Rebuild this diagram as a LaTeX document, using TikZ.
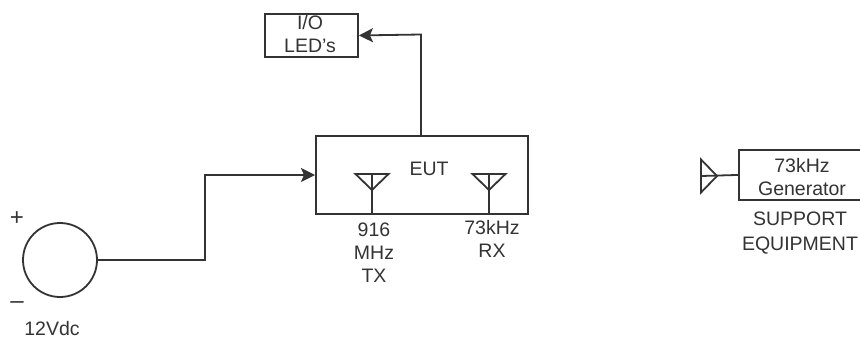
\documentclass[tikz,border=0pt]{standalone}
\usepackage{fontspec}
\setmainfont{Liberation Sans}
\usetikzlibrary{positioning,arrows.meta}
\definecolor{linegray}{HTML}{333333}
\definecolor{textgray}{HTML}{333333}

\begin{document}
\begin{tikzpicture}[x=1pt, y=-1pt, >={Stealth[length=14pt,width=14pt,inset=3pt]},
  every node/.style={font=\fontsize{19.5}{23}\selectfont, text=textgray, inner sep=0pt, align=center},
  box/.style={rectangle,draw=linegray,line width=1.9pt,anchor=north west},
  wire/.style={draw=linegray,line width=1.8pt}]

\useasboundingbox (0,0) rectangle (860,341);
\clip (0,0) rectangle (860,341);
\fill[white] (0,0) rectangle (860,341);

% Boxes
\node[box,minimum width=93pt,minimum height=43pt] at (264,13) (io) {};
\node[box,minimum width=212pt,minimum height=78pt] at (315,135) (eut) {};
\node[box,minimum width=130pt,minimum height=50pt] at (738,149) (gen) {};

% Source
\node[circle,draw=linegray,line width=1.8pt,minimum size=74pt] at (60,260) (src) {};

% Box texts
\node at (310,34) (io_text) {I/O\\LED's};
\node at (429,169) (eut_text) {EUT};
\node at (802,177) (gen_text) {73kHz\\Generator};

% Labels
\node at (374,253) (tx_label) {916\\MHz\\TX};
\node at (492,239) (rx_label) {73kHz\\RX};
\node[font=\fontsize{19.5}{25}\selectfont] at (800,233.5) (support) {SUPPORT\\EQUIPMENT};
\node[font=\fontsize{24}{24}\selectfont] at (17,219) (plus) {+};
\node[font=\fontsize{24}{24}\selectfont] at (17,305) (minus) {--};
\node at (52,329) (volt) {12Vdc};

% Antennas
\coordinate (tx_top) at (372,174);
\coordinate (tx_foot) at (372,213);
\coordinate (rx_top) at (489,174);
\coordinate (rx_foot) at (489,213);
\foreach \ant in {tx,rx} {
  \draw[wire] ([xshift=-16.5pt]\ant_top) -- ([xshift=16.5pt]\ant_top) -- ([yshift=-16pt]\ant_top) -- cycle;
  \draw[wire] (\ant_top) -- (\ant_foot);
}

% Generator antenna
\coordinate (gen_tip) at (717,176);
\coordinate (gen_base) at (701,176);
\draw[wire] ([yshift=-16.5pt]gen_base) -- ([yshift=16.5pt]gen_base) -- (gen_tip) -- cycle;
\draw[wire] (gen_base) -- (gen.west);

% Connections
\draw[wire,->] (src.east) -- (205,260) -- (205,175) -- (eut.west |- 205,175);
\draw[wire,->] (421,135) -- (421,34.5) -- (io.east);

\end{tikzpicture}
\end{document}
